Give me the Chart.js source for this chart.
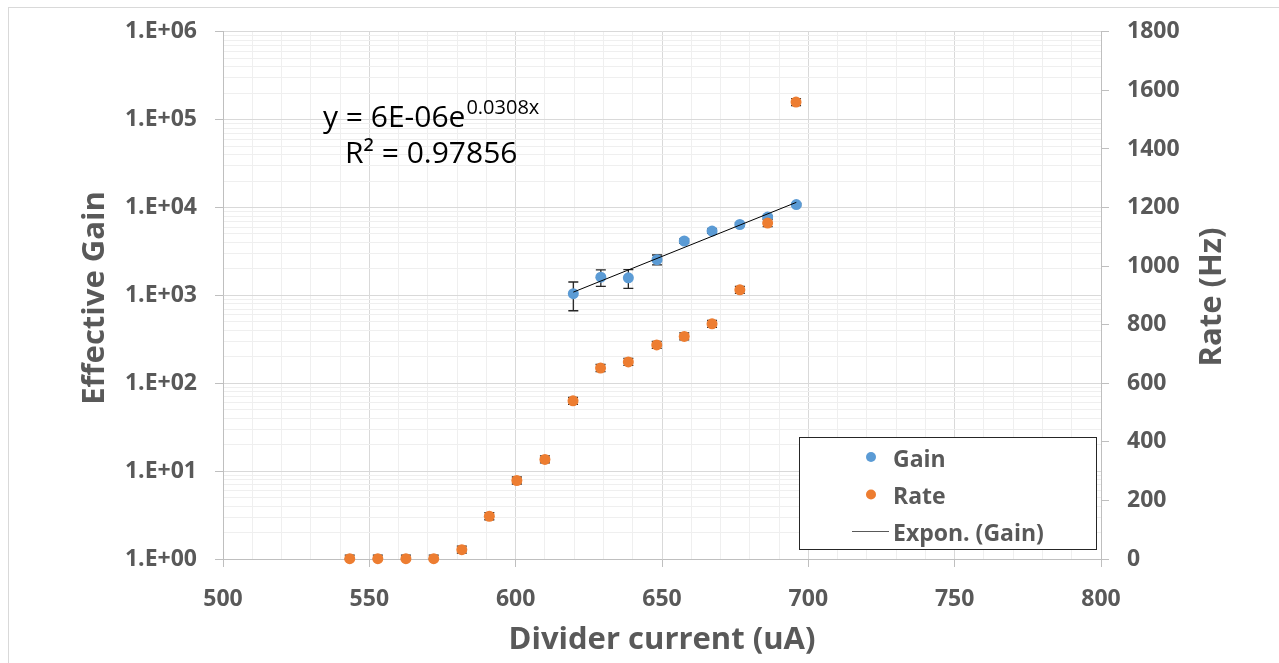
<!DOCTYPE html>
<html><head><meta charset="utf-8">
<script src="https://cdn.jsdelivr.net/npm/chart.js@4.4.0/dist/chart.umd.min.js"></script>
<style>
html,body{margin:0;padding:0;background:#fff;}
#wrap{position:relative;width:1279px;height:663px;overflow:hidden;background:#fff;}
#frame{position:absolute;left:8px;top:7px;width:1300px;height:700px;border:1px solid #d9d9d9;box-sizing:border-box;}
canvas{position:absolute;left:0;top:0;}
</style></head><body>
<div id="wrap"><div id="frame"></div><canvas id="c" width="1279" height="663"></canvas></div>
<script>
// ---- data ----
const xGain   = [619.7, 629.1, 638.5, 648.3, 657.6, 667.1, 676.6, 686.1, 695.9];
const gain    = [1045, 1610, 1585, 2553, 4160, 5394, 6410, 7785, 10820];
const gainErr = [376, 345, 380, 330, 250, 300, 300, 350, 350];
const xRate   = [543.3, 552.9, 562.5, 572.0, 581.6, 591.0, 600.4, 610.0, 619.6, 629.0, 638.5, 648.2, 657.6, 667.1, 676.6, 686.1, 695.8];
const rate    = [1, 1, 1, 1, 32, 146, 268, 340, 540, 652, 673, 731, 760, 803, 919, 1147, 1560];
const rateErr = [12, 12, 12, 12, 12, 12, 12, 12, 12, 12, 12, 12, 12, 12, 12, 12, 12];
const xMajorTicks   = [500, 550, 600, 650, 700, 750, 800];
const gainDecades   = [1, 10, 100, 1000, 10000, 100000, 1000000];
const gainTickLabels = ['1.E+00', '1.E+01', '1.E+02', '1.E+03', '1.E+04', '1.E+05', '1.E+06'];
const rateTicks     = [0, 200, 400, 600, 800, 1000, 1200, 1400, 1600, 1800];

// ---- styling ----
const FONT = '"Open Sans", "Noto Sans", sans-serif';
const TXT = '#595959';
const GRID_MAJOR = '#d9d9d9', GRID_MINOR = '#efefef', AXIS = '#bfbfbf';
const BLUE = '#5B9BD5', ORANGE = '#ED7D31';
const TITLE_SIZE = 31;

// grid positions (minor every 10 on x; 1..9 per decade on log axis)
const xGridVals = [];
for (let v = xMajorTicks[0]; v <= xMajorTicks[xMajorTicks.length - 1]; v += 10) xGridVals.push(v);
const gainGridVals = [];
gainDecades.forEach((d, i) => {
  if (i === gainDecades.length - 1) { gainGridVals.push(d); return; }
  for (let k = 1; k <= 9; k++) gainGridVals.push(d * k);
});

// exponential trend line (least squares on ln(gain))
const n = xGain.length;
const lnG = gain.map(Math.log);
const mx = xGain.reduce((a, b) => a + b, 0) / n;
const my = lnG.reduce((a, b) => a + b, 0) / n;
let sxy = 0, sxx = 0;
for (let i = 0; i < n; i++) { sxy += (xGain[i] - mx) * (lnG[i] - my); sxx += (xGain[i] - mx) ** 2; }
const slope = sxy / sxx, icpt = my - slope * mx;
const trendPts = [xGain[0], xGain[n - 1]].map(x => ({ x, y: Math.exp(icpt + slope * x) }));

const tickFont = { family: FONT, size: 23, weight: 'bold' };

const overlay = {
  id: 'overlay',
  beforeDatasetsDraw(chart) {
    const ctx = chart.ctx, xs = chart.scales.x, ys = chart.scales.y, y2 = chart.scales.y2;
    ctx.save();
    ctx.strokeStyle = '#262626';
    ctx.lineWidth = 1.3;
    const bar = (px, top, bot) => {
      ctx.beginPath();
      ctx.moveTo(px, top); ctx.lineTo(px, bot);
      ctx.moveTo(px - 5, top); ctx.lineTo(px + 5, top);
      ctx.moveTo(px - 5, bot); ctx.lineTo(px + 5, bot);
      ctx.stroke();
    };
    xGain.forEach((x, i) => bar(xs.getPixelForValue(x), ys.getPixelForValue(gain[i] + gainErr[i]), ys.getPixelForValue(Math.max(gain[i] - gainErr[i], 1))));
    xRate.forEach((x, i) => bar(xs.getPixelForValue(x), y2.getPixelForValue(rate[i] + rateErr[i]), y2.getPixelForValue(Math.max(rate[i] - rateErr[i], 0))));
    ctx.restore();
  },
  afterDraw(chart) {
    const ctx = chart.ctx;
    ctx.save();
    // axis titles (y)
    ctx.fillStyle = TXT;
    ctx.font = 'bold ' + TITLE_SIZE + 'px ' + FONT;
    ctx.textAlign = 'center';
    ctx.textBaseline = 'middle';
    ctx.save(); ctx.translate(95, 298); ctx.rotate(-Math.PI / 2); ctx.fillText('Effective Gain', 0, 0); ctx.restore();
    ctx.save(); ctx.translate(1212, 297); ctx.rotate(-Math.PI / 2); ctx.fillText('Rate (Hz)', 0, 0); ctx.restore();

    // equation
    ctx.fillStyle = '#000';
    ctx.textAlign = 'left';
    ctx.textBaseline = 'alphabetic';
    ctx.font = '30px ' + FONT;
    const t1 = 'y = 6E-06e';
    ctx.fillText(t1, 323, 127);
    const w1 = ctx.measureText(t1).width;
    ctx.font = '20px ' + FONT;
    ctx.fillText('0.0308x', 323 + w1 + 1, 114);
    ctx.font = '30px ' + FONT;
    ctx.fillText('R\u00B2 = 0.97856', 345, 163);

    // legend box
    ctx.fillStyle = '#fff';
    ctx.fillRect(799.5, 437.5, 297, 112);
    ctx.strokeStyle = '#262626';
    ctx.lineWidth = 1;
    ctx.strokeRect(799.5, 437.5, 297, 112);
    ctx.fillStyle = BLUE;
    ctx.beginPath(); ctx.arc(871, 457, 5, 0, Math.PI * 2); ctx.fill();
    ctx.fillStyle = ORANGE;
    ctx.beginPath(); ctx.arc(871, 494.5, 5, 0, Math.PI * 2); ctx.fill();
    ctx.strokeStyle = '#595959';
    ctx.beginPath(); ctx.moveTo(852, 531.5); ctx.lineTo(889, 531.5); ctx.stroke();
    ctx.fillStyle = TXT;
    ctx.font = 'bold 23px ' + FONT;
    ctx.textBaseline = 'middle';
    ctx.fillText('Gain', 893, 460);
    ctx.fillText('Rate', 893, 497);
    ctx.fillText('Expon. (Gain)', 893, 534);
    ctx.restore();
  }
};

new Chart(document.getElementById('c'), {
  type: 'scatter',
  data: {
    datasets: [
      { label: 'Expon. (Gain)', type: 'line', data: trendPts, yAxisID: 'y', borderColor: '#000', borderWidth: 1,
        pointRadius: 0, showLine: true, fill: false, order: 0, clip: false },
      { label: 'Rate', data: xRate.map((x, i) => ({ x, y: rate[i] })), yAxisID: 'y2',
        backgroundColor: ORANGE, borderColor: ORANGE, pointRadius: 5.5, borderWidth: 0, order: 1, clip: false },
      { label: 'Gain', data: xGain.map((x, i) => ({ x, y: gain[i] })), yAxisID: 'y',
        backgroundColor: BLUE, borderColor: BLUE, pointRadius: 5.5, borderWidth: 0, order: 2, clip: false }
    ]
  },
  options: {
    responsive: false,
    animation: false,
    layout: { padding: { top: 30, left: 0, right: 0, bottom: 0 } },
    plugins: { legend: { display: false }, tooltip: { enabled: false } },
    scales: {
      x: {
        type: 'linear', min: 500, max: 800,
        afterBuildTicks: s => { s.ticks = xGridVals.map(v => ({ value: v })); },
        ticks: { autoSkip: false, maxRotation: 0, color: TXT, font: tickFont, padding: 19,
                 callback: v => xMajorTicks.includes(v) ? String(v) : '' },
        grid: { color: c => (c.tick && xMajorTicks.includes(c.tick.value)) ? GRID_MAJOR : GRID_MINOR,
                tickColor: c => (c.tick && xMajorTicks.includes(c.tick.value)) ? AXIS : 'rgba(0,0,0,0)',
                tickLength: 8, lineWidth: 1 },
        border: { color: AXIS, width: 1 },
        title: { display: true, text: 'Divider current (uA)', color: TXT,
                 font: { family: FONT, size: TITLE_SIZE, weight: 'bold', lineHeight: 1.2 }, padding: { top: 0, bottom: 4 } },
        afterFit: s => { s.height = 663 - 559; }
      },
      y: {
        type: 'logarithmic', position: 'left', min: 1, max: 1000000,
        afterBuildTicks: s => { s.ticks = gainGridVals.map(v => ({ value: v, major: gainDecades.includes(v) })); },
        ticks: { autoSkip: false, color: TXT, font: tickFont, padding: 18,
                 callback: v => { const i = gainDecades.indexOf(v); return i >= 0 ? gainTickLabels[i] : ''; } },
        grid: { color: c => (c.tick && gainDecades.includes(c.tick.value)) ? GRID_MAJOR : GRID_MINOR,
                tickColor: c => (c.tick && gainDecades.includes(c.tick.value)) ? AXIS : 'rgba(0,0,0,0)',
                tickLength: 8, lineWidth: 1 },
        border: { color: AXIS, width: 1 },
        afterFit: s => { s.width = 223; }
      },
      y2: {
        type: 'linear', position: 'right', min: 0, max: 1800,
        afterBuildTicks: s => { s.ticks = rateTicks.map(v => ({ value: v })); },
        ticks: { autoSkip: false, color: TXT, font: tickFont, padding: 18, callback: v => String(v) },
        grid: { drawOnChartArea: false, tickColor: AXIS, tickLength: 8 },
        border: { color: AXIS, width: 1 },
        afterFit: s => { s.width = 1279 - 1101; }
      }
    }
  },
  plugins: [overlay]
});
</script>
</body></html>
